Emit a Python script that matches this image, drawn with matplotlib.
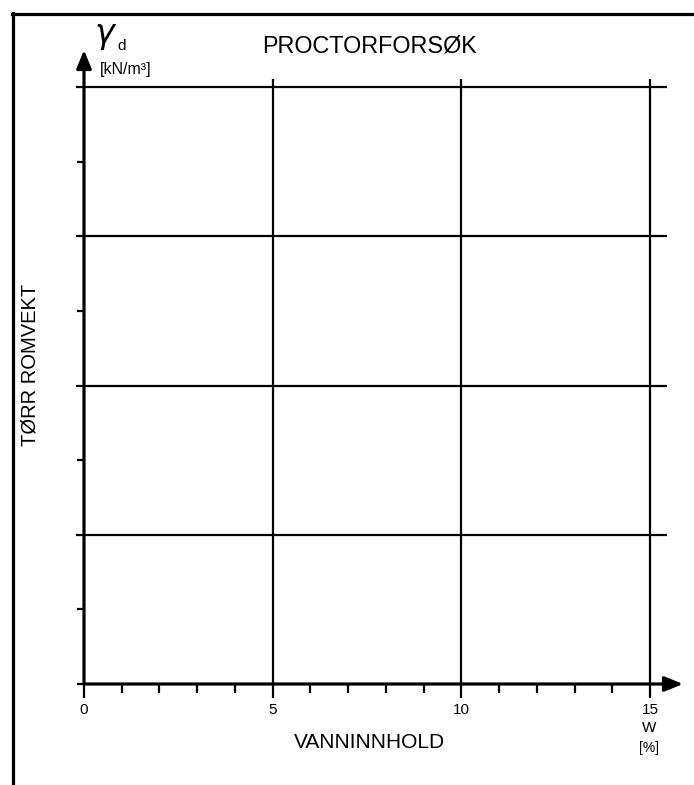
import matplotlib
matplotlib.use("Agg")
import matplotlib.pyplot as plt
from matplotlib.lines import Line2D

plt.rcParams['font.family'] = ['Liberation Sans', 'DejaVu Sans']

# Data
x_major = [0, 5, 10, 15]
x_labels = ["0", "5", "10", "15"]
x_minor = [1, 2, 3, 4, 6, 7, 8, 9, 11, 12, 13, 14]
y_grid = [1, 2, 3, 4]
y_minor = [0.5, 1.5, 2.5, 3.5]

title = "PROCTORFORSØK"
x_title = "VANNINNHOLD"
y_title = "TØRR ROMVEKT"
x_unit = ["W", "[%]"]
y_unit = "[kN/m³]"

W, H = 694, 785
fig = plt.figure(figsize=(W / 100, H / 100), dpi=100)

def fx(px):
    return px / W

def fy(py):
    return 1 - py / H

# axes: x 0..15 -> px 84..650 ; y 0..4 -> px 684..87
X0, X1, Y0, Y1 = 84, 650, 684, 87
ax = fig.add_axes([fx(X0), fy(Y0), fx(X1) - fx(X0), fy(Y1) - fy(Y0)])
ax.set_xlim(0, 15)
ax.set_ylim(0, 4)
ax.axis('off')

ux = 15 / (X1 - X0)      # data units per px in x
uy = 4 / (Y0 - Y1)       # data units per px in y

lw_grid = 1.6
# horizontal grid lines
ax.hlines(y_grid, -8 * ux, 15 + 17 * ux, colors='black', linewidth=lw_grid, clip_on=False)
# vertical grid lines (5, 10, 15)
ax.vlines([v for v in x_major if v > 0], -14 * uy, 4 + 8 * uy, colors='black',
          linewidth=lw_grid, clip_on=False)
# small major tick below at 0
ax.vlines([0], -14 * uy, 0, colors='black', linewidth=lw_grid, clip_on=False)
# x minor ticks
ax.vlines(x_minor, -9 * uy, 0, colors='black', linewidth=lw_grid, clip_on=False)
# y minor ticks
ax.hlines(y_minor, -7 * ux, 0, colors='black', linewidth=lw_grid, clip_on=False)
ax.hlines([0], -7 * ux, 0, colors='black', linewidth=lw_grid, clip_on=False)

# axes with arrows
ax.annotate('', xy=(15 + 33 * ux, 0), xytext=(0, 0), annotation_clip=False,
            arrowprops=dict(arrowstyle='-|>,head_length=1.1,head_width=0.45',
                            color='black', lw=2.3, shrinkA=0, shrinkB=0))
ax.annotate('', xy=(0, 4 + 37 * uy), xytext=(0, 0), annotation_clip=False,
            arrowprops=dict(arrowstyle='-|>,head_length=1.1,head_width=0.45',
                            color='black', lw=2.3, shrinkA=0, shrinkB=0))

# x tick labels
for v, lab in zip(x_major, x_labels):
    ax.text(v, -26 * uy, lab, ha='center', va='center', fontsize=11)

# frame lines
fig.add_artist(Line2D([fx(12.5), fx(12.5)], [fy(13), fy(790)], color='black', lw=2.3,
                      transform=fig.transFigure))
fig.add_artist(Line2D([fx(11.5), fx(700)], [fy(13.5), fy(13.5)], color='black', lw=2.3,
                      transform=fig.transFigure))

# texts
fig.text(fx(370), fy(46), title, ha='center', va='center', fontsize=16.8)
fig.text(fx(369), fy(743), x_title, ha='center', va='center', fontsize=15)
fig.text(fx(30), fy(365), y_title, ha='center', va='center', fontsize=14.5, rotation=90)
fig.text(fx(649), fy(728), x_unit[0], ha='center', va='center', fontsize=11)
fig.text(fx(649), fy(748), x_unit[1], ha='center', va='center', fontsize=10)
fig.text(fx(106), fy(36), r'$\gamma$', ha='center', va='center', fontsize=24)
fig.text(fx(122), fy(46), 'd', ha='center', va='center', fontsize=11)
fig.text(fx(126), fy(69.5), y_unit, ha='center', va='center', fontsize=11.5)

fig.savefig('out.png', dpi=100)
